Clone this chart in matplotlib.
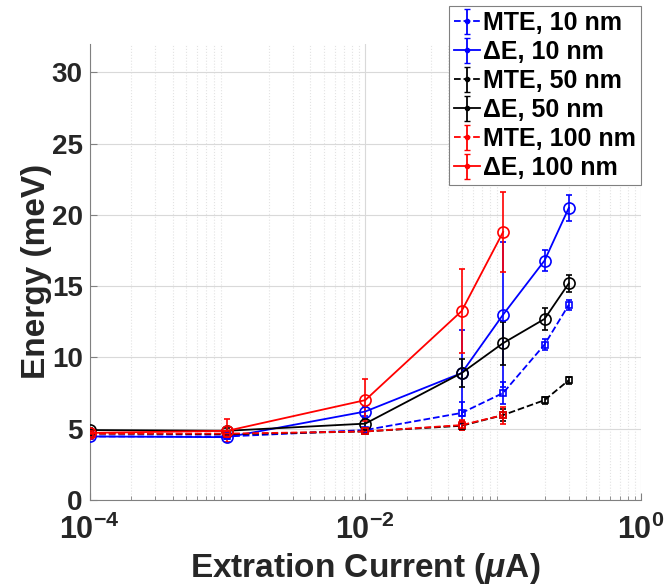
import numpy as np
import matplotlib
matplotlib.use("Agg")
import matplotlib.pyplot as plt
from matplotlib.ticker import LogLocator, NullFormatter, FixedLocator, FixedFormatter

plt.rcParams['font.family'] = ['Liberation Sans', 'DejaVu Sans']
plt.rcParams['font.weight'] = 'bold'
plt.rcParams['mathtext.fontset'] = 'custom'
plt.rcParams['mathtext.rm'] = 'Liberation Sans:bold'
plt.rcParams['mathtext.it'] = 'Liberation Sans:italic:bold'
plt.rcParams['mathtext.bf'] = 'Liberation Sans:bold'
plt.rcParams['axes.unicode_minus'] = False

# extraction current (uA)
current = [1e-4, 1e-3, 1e-2, 5e-2, 1e-1, 2e-1, 3e-1]
current_100 = current[:5]

# 10 nm
mte_10 = [4.45, 4.45, 4.9, 6.1, 7.5, 10.9, 13.7]
mte_10_err = [0.1, 0.1, 0.15, 0.8, 0.8, 0.4, 0.35]
de_10 = [4.45, 4.4, 6.2, 8.9, 13.0, 16.8, 20.5]
de_10_err = [0.15, 0.15, 0.3, 3.0, 5.1, 0.75, 0.9]

# 50 nm
mte_50 = [4.65, 4.6, 4.8, 5.2, 5.95, 7.0, 8.4]
mte_50_err = [0.1, 0.1, 0.1, 0.3, 0.4, 0.25, 0.25]
de_50 = [4.9, 4.85, 5.35, 8.9, 11.0, 12.7, 15.2]
de_50_err = [0.15, 0.2, 0.3, 1.0, 1.5, 0.8, 0.6]

# 100 nm
mte_100 = [4.65, 4.65, 4.8, 5.25, 5.95]
mte_100_err = [0.1, 0.15, 0.15, 0.35, 0.6]
de_100 = [4.7, 4.85, 7.0, 13.25, 18.8]
de_100_err = [0.2, 0.8, 1.45, 2.95, 2.8]

labels = ['MTE, 10 nm', '\u0394E, 10 nm', 'MTE, 50 nm',
          '\u0394E, 50 nm', 'MTE, 100 nm', '\u0394E, 100 nm']

fig = plt.figure(figsize=(6.69, 5.86), dpi=100)
ax = fig.add_axes([0.134, 0.147, 0.824, 0.778])

series = [
    (current, mte_10, mte_10_err, 'blue', '--', 's', 5),
    (current, de_10, de_10_err, 'blue', '-', 'o', 8),
    (current, mte_50, mte_50_err, 'black', '--', 's', 5),
    (current, de_50, de_50_err, 'black', '-', 'o', 8),
    (current_100, mte_100, mte_100_err, 'red', '--', 's', 5),
    (current_100, de_100, de_100_err, 'red', '-', 'o', 8),
]

handles = []
for x, y, err, col, ls, mk, ms in series:
    ax.errorbar(x, y, yerr=err, color=col, linestyle=ls, marker=mk,
                markersize=ms, markerfacecolor='none', markeredgewidth=1.2,
                linewidth=1.3, capsize=2.5, elinewidth=1.2, zorder=3)
    # legend proxy with a small dot marker like the original
    h = ax.errorbar([np.nan], [np.nan], yerr=[1], color=col, linestyle=ls,
                    marker='.', markersize=6, linewidth=1.3, capsize=2.5)
    handles.append(h)

ax.set_xscale('log')
ax.set_xlim(1e-4, 1)
ax.set_ylim(0, 32)

ax.xaxis.set_major_locator(FixedLocator([1e-4, 1e-2, 1]))
ax.xaxis.set_major_formatter(FixedFormatter([r'$10^{-4}$', r'$10^{-2}$', r'$10^{0}$']))
ax.xaxis.set_minor_locator(LogLocator(base=10, subs=np.arange(2, 10)))
ax.xaxis.set_minor_formatter(NullFormatter())
ax.set_yticks([0, 5, 10, 15, 20, 25, 30])

ax.grid(True, which='major', color='#d9d9d9', linewidth=0.8)
ax.grid(True, which='minor', axis='x', color='#e3e3e3', linestyle=':', linewidth=0.8)
ax.set_axisbelow(True)

for s in ['top', 'right']:
    ax.spines[s].set_visible(False)
for s in ['left', 'bottom']:
    ax.spines[s].set_color('#808080')
    ax.spines[s].set_linewidth(0.8)

ax.tick_params(axis='both', which='both', direction='in', colors='#808080',
               labelcolor='#262626')
ax.tick_params(axis='both', which='major', length=5)
ax.tick_params(axis='x', which='minor', length=3)
ax.tick_params(axis='y', labelsize=20, pad=5)
ax.tick_params(axis='x', labelsize=22, pad=11)

ax.set_xlabel('Extration Current ($\\mu$A)', fontsize=24, fontweight='bold',
              color='#262626', labelpad=3)
ax.set_ylabel('Energy (meV)', fontsize=24, fontweight='bold', color='#262626',
              labelpad=0)

leg = fig.legend(handles, labels, loc='upper right',
                 bbox_to_anchor=(0.958, 0.99), bbox_transform=fig.transFigure,
                 prop={'weight': 'bold', 'size': 18},
                 frameon=True, fancybox=False, framealpha=1, edgecolor='#808080',
                 borderpad=0.2, labelspacing=0.2, handlelength=1.05,
                 handletextpad=0.12, borderaxespad=0)
leg.get_frame().set_linewidth(0.8)

fig.savefig('out.png', dpi=100)
